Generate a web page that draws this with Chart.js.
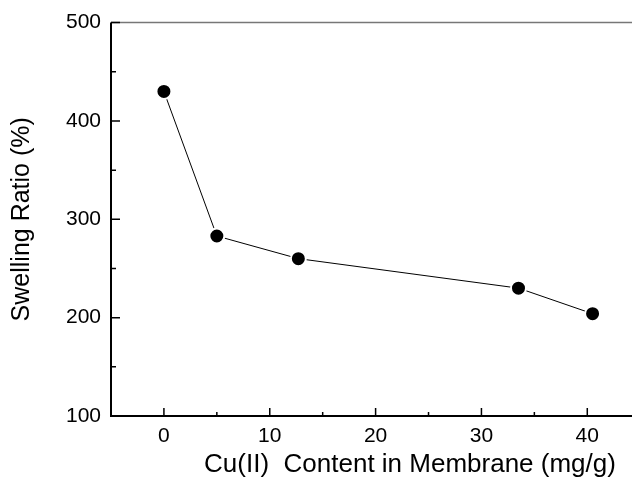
<!DOCTYPE html>
<html>
<head>
<meta charset="utf-8">
<script src="https://cdn.jsdelivr.net/npm/chart.js@4.4.0/dist/chart.umd.min.js"></script>
<style>
  html, body { margin: 0; padding: 0; background: #fff; overflow: hidden; }
  #wrap { width: 720px; height: 485px; }
</style>
</head>
<body>
<div id="wrap"><canvas id="chart" width="720" height="485"></canvas></div>
<script>
// data
const cuContent = [0, 5, 12.7, 33.5, 40.5];
const swellingRatio = [430, 283, 260, 230, 204];
const xTicks = [0, 10, 20, 30, 40];
const xMinor = [5, 15, 25, 35, 45];
const yTicks = [100, 200, 300, 400, 500];
const yMinor = [150, 250, 350, 450];

const FONT = "'Liberation Sans', Arial, Helvetica, sans-serif";

// axes frame + inward ticks
const frame = {
  id: 'frame',
  afterDatasetsDraw(chart) {
    const ctx = chart.ctx;
    const a = chart.chartArea;
    const xs = chart.scales.x, ys = chart.scales.y;
    ctx.save();
    // top line (grey)
    ctx.strokeStyle = '#777';
    ctx.lineWidth = 1.5;
    ctx.beginPath();
    ctx.moveTo(a.left, a.top);
    ctx.lineTo(a.right, a.top);
    ctx.stroke();
    // left and bottom axes
    ctx.strokeStyle = '#000';
    ctx.lineWidth = 2;
    ctx.beginPath();
    ctx.moveTo(a.left, a.top);
    ctx.lineTo(a.left, a.bottom);
    ctx.lineTo(a.right, a.bottom);
    ctx.stroke();
    ctx.lineWidth = 1.5;
    ctx.beginPath();
    yTicks.forEach(v => {
      const y = ys.getPixelForValue(v);
      ctx.moveTo(a.left, y); ctx.lineTo(a.left + 9, y);
    });
    yMinor.forEach(v => {
      const y = ys.getPixelForValue(v);
      ctx.moveTo(a.left, y); ctx.lineTo(a.left + 5, y);
    });
    xTicks.forEach(v => {
      const x = xs.getPixelForValue(v);
      ctx.moveTo(x, a.bottom); ctx.lineTo(x, a.bottom - 8);
    });
    xMinor.forEach(v => {
      const x = xs.getPixelForValue(v);
      ctx.moveTo(x, a.bottom); ctx.lineTo(x, a.bottom - 4);
    });
    ctx.stroke();
    ctx.restore();
  }
};

new Chart(document.getElementById('chart'), {
  type: 'line',
  data: {
    datasets: [{
      data: cuContent.map((x, i) => ({ x: x, y: swellingRatio[i] })),
      borderColor: '#000',
      borderWidth: 1,
      pointRadius: 7.5,
      pointBackgroundColor: '#000',
      pointBorderColor: '#fff',
      pointBorderWidth: 2,
      tension: 0
    }]
  },
  options: {
    responsive: false,
    animation: false,
    devicePixelRatio: 1,
    layout: { padding: { top: 21, right: 11, left: 0, bottom: 0 } },
    plugins: { legend: { display: false }, tooltip: { enabled: false } },
    scales: {
      x: {
        type: 'linear',
        min: -5,
        max: 51.5,
        afterBuildTicks: s => { s.ticks = xTicks.map(v => ({ value: v })); },
        afterFit: s => { s.height = 69; },
        grid: { display: false, drawTicks: false },
        border: { display: false },
        ticks: { color: '#000', font: { family: FONT, size: 21 }, padding: 8 },
        title: {
          display: true,
          text: 'Cu(II)  Content in Membrane (mg/g)',
          color: '#000',
          font: { family: FONT, size: 26 },
          padding: { top: 0, bottom: 5 }
        }
      },
      y: {
        min: 100,
        max: 500,
        afterBuildTicks: s => { s.ticks = yTicks.map(v => ({ value: v })); },
        afterFit: s => { s.width = 111; },
        grid: { display: false, drawTicks: false },
        border: { display: false },
        ticks: { color: '#000', font: { family: FONT, size: 21 }, padding: 10 },
        title: {
          display: true,
          text: 'Swelling Ratio (%)',
          color: '#000',
          font: { family: FONT, size: 25 },
          padding: { top: 7, bottom: 0 }
        }
      }
    }
  },
  plugins: [frame]
});
</script>
</body>
</html>
